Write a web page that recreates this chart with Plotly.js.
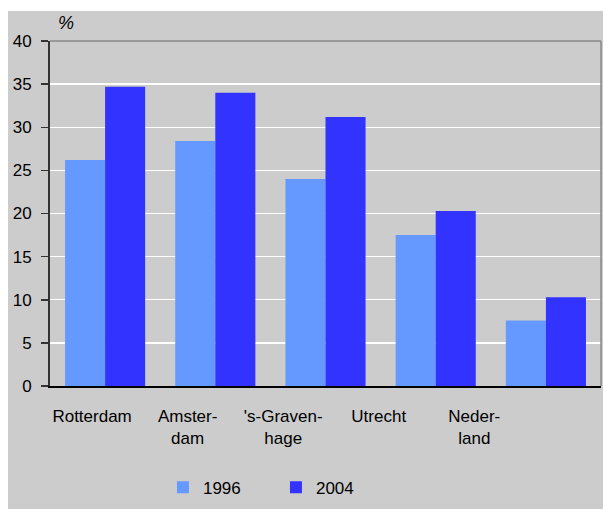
<!DOCTYPE html>
<html>
<head>
<meta charset="utf-8">
<script src="https://cdn.plot.ly/plotly-3.0.1.min.js"></script>
<style>
  html, body { margin: 0; padding: 0; background: #ffffff; }
  #chart { position: absolute; left: 8px; top: 11px; width: 595px; height: 498px; }
</style>
</head>
<body>
<div id="chart"></div>
<script>
const categories = ["Rotterdam", "Amsterdam", "'s-Gravenhage", "Utrecht", "Nederland"];
const tickLabels = ["Rotterdam", "Amster-<br>dam", "'s-Graven-<br>hage", "Utrecht", "Neder-<br>land"];
const values1996 = [26.2, 28.4, 24.0, 17.5, 7.6];
const values2004 = [34.7, 34.0, 31.2, 20.3, 10.3];
const seriesNames = ["1996", "2004"];

// label placement in the reference is slightly compressed relative to the bars
const labelStart = -0.118, labelStep = 0.867;
const labelPos = categories.map((_, i) => labelStart + i * labelStep);

const font = "Liberation Sans, Arial, sans-serif";

const traces = [
  { type: "bar", name: seriesNames[0], x: categories, y: values1996,
    marker: { color: "#6699ff", line: { width: 0 } }, hoverinfo: "y" },
  { type: "bar", name: seriesNames[1], x: categories, y: values2004,
    marker: { color: "#3333ff", line: { width: 0 } }, hoverinfo: "y" }
];

const layout = {
  width: 595, height: 498,
  margin: { l: 42, r: 2, t: 30, b: 123, pad: 0 },
  paper_bgcolor: "#cccccc",
  plot_bgcolor: "#cccccc",
  barmode: "group",
  bargap: 0.273,
  bargroupgap: 0,
  font: { family: font, size: 17, color: "#000000" },
  showlegend: true,
  legend: {
    orientation: "h", x: 0.205, xanchor: "left", y: -0.295, yanchor: "middle",
    bgcolor: "rgba(0,0,0,0)", font: { family: font, size: 17, color: "#000" },
    entrywidth: 68, entrywidthmode: "pixels", traceorder: "normal"
  },
  xaxis: {
    type: "category",
    tickmode: "array", tickvals: labelPos, ticktext: tickLabels,
    showline: true, linecolor: "#000000", linewidth: 1.5,
    ticks: "", showgrid: false, zeroline: false,
    ticklabelstandoff: 14,
    tickfont: { family: font, size: 17, color: "#000" },
    range: [-0.5, 4.5], fixedrange: true
  },
  yaxis: {
    range: [0, 40], dtick: 5, tick0: 0,
    showgrid: true, gridcolor: "#ffffff", gridwidth: 1.3,
    showline: true, linecolor: "#333333", linewidth: 2,
    ticks: "outside", ticklen: 7, tickcolor: "#333333", tickwidth: 1.5,
    ticklabelstandoff: 6,
    zeroline: false,
    tickfont: { family: font, size: 17, color: "#000" },
    fixedrange: true
  },
  shapes: [
    { type: "line", xref: "paper", yref: "paper", x0: 0, x1: 1, y0: 1, y1: 1,
      line: { color: "#888888", width: 1.5 } },
    { type: "line", xref: "paper", yref: "paper", x0: 1, x1: 1, y0: 0, y1: 1,
      line: { color: "#888888", width: 1.5 } }
  ],
  annotations: [
    { text: "<i>%</i>", xref: "paper", yref: "paper", x: 0.011, y: 1.052,
      xanchor: "left", yanchor: "middle", showarrow: false,
      font: { family: font, size: 18, color: "#000" } }
  ]
};

Plotly.newPlot("chart", traces, layout, { displayModeBar: false, staticPlot: true });
</script>
</body>
</html>
